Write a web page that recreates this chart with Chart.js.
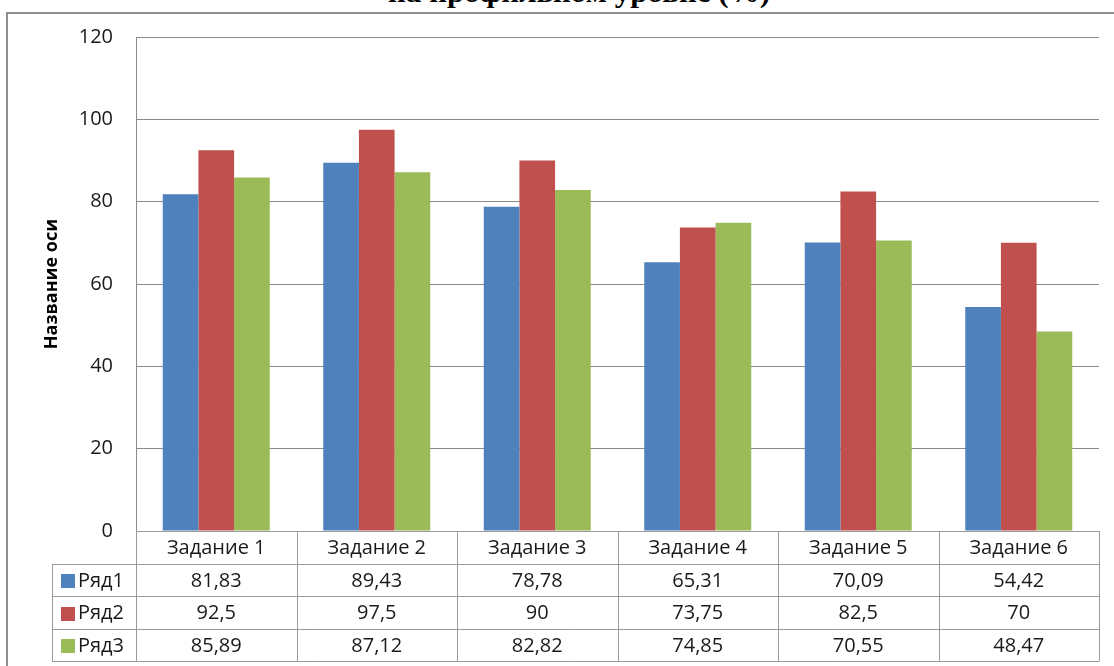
<!DOCTYPE html>
<html>
<head>
<meta charset="utf-8">
<script src="https://cdn.jsdelivr.net/npm/chart.js@4.4.0/dist/chart.umd.min.js"></script>
<style>
  html, body { margin: 0; padding: 0; background: #fff; overflow: hidden; }
  #wrap { position: absolute; left: 0; top: 0; width: 1114px; height: 666px; }
  #frame { position: absolute; left: 6px; top: 12px; width: 1200px; height: 800px; border: 2px solid #8e8e8e; box-sizing: border-box; }
  #title { position: absolute; left: 388px; top: -25px; white-space: nowrap; font-family: "Liberation Serif", serif; font-weight: bold; font-size: 30px; color: #000; transform-origin: 0 0; }
  canvas { position: absolute; left: 0; top: 0; }
</style>
</head>
<body>
<div id="wrap">
  <div id="frame"></div>
  <div id="title">на профильном уровне (%)</div>
  <canvas id="c" width="1114" height="666"></canvas>
</div>
<script>
const categories = ["Задание 1", "Задание 2", "Задание 3", "Задание 4", "Задание 5", "Задание 6"];
const seriesNames = ["Ряд1", "Ряд2", "Ряд3"];
const ryad1 = [81.83, 89.43, 78.78, 65.31, 70.09, 54.42];
const ryad2 = [92.5, 97.5, 90, 73.75, 82.5, 70];
const ryad3 = [85.89, 87.12, 82.82, 74.85, 70.55, 48.47];
const seriesColors = ["#4F81BD", "#C0504D", "#9BBB59"];
const yTitle = "Название оси";
const yMin = 0, yMax = 120, yStep = 20;

// fit title width to the reference
(function(){
  const t = document.getElementById('title');
  const w = t.getBoundingClientRect().width;
  t.style.transform = 'scaleX(' + (382 / w) + ')';
})();

const FONT = "'Open Sans', Lato, sans-serif";
const fmt = v => String(v).replace('.', ',');

const tablePlugin = {
  id: 'dataTable',
  afterDraw(chart) {
    const ctx = chart.ctx;
    const x = chart.scales.x;
    const area = chart.chartArea;
    const n = categories.length;
    const colW = x.width / n;
    const top = area.bottom;
    const rowH = 32.6;
    const tableLeft = 52;
    const sets = chart.data.datasets;
    ctx.save();
    ctx.strokeStyle = '#9a9a9a';
    ctx.lineWidth = 1;
    ctx.beginPath();
    ctx.moveTo(area.left, Math.round(top) + 0.5);
    ctx.lineTo(area.right, Math.round(top) + 0.5);
    for (let r = 1; r <= sets.length + 1; r++) {
      const yy = Math.round(top + r * rowH) + 0.5;
      ctx.moveTo(tableLeft, yy);
      ctx.lineTo(area.right, yy);
    }
    const bottom = Math.round(top + (sets.length + 1) * rowH) + 0.5;
    ctx.moveTo(tableLeft + 0.5, Math.round(top + rowH));
    ctx.lineTo(tableLeft + 0.5, bottom);
    for (let i = 0; i <= n; i++) {
      const xx = Math.round(x.getPixelForValue(0) - colW / 2 + i * colW) + 0.5;
      ctx.moveTo(xx, top);
      ctx.lineTo(xx, bottom);
    }
    ctx.stroke();

    ctx.fillStyle = '#1a1a1a';
    ctx.font = '20px ' + FONT;
    ctx.textAlign = 'center';
    ctx.textBaseline = 'middle';
    for (let i = 0; i < n; i++) {
      ctx.fillText(categories[i], x.getPixelForValue(i), top + rowH / 2 + 1);
    }
    sets.forEach((ds, r) => {
      const cy = top + (r + 1) * rowH + rowH / 2 + 1;
      ctx.fillStyle = ds.backgroundColor;
      ctx.fillRect(61, Math.round(cy - 7), 14, 14);
      ctx.fillStyle = '#1a1a1a';
      ctx.textAlign = 'left';
      ctx.fillText(ds.label, 78, cy);
      ctx.textAlign = 'center';
      ds.data.forEach((v, i) => {
        ctx.fillText(fmt(v), x.getPixelForValue(i), cy);
      });
    });
    ctx.restore();
  }
};

new Chart(document.getElementById('c'), {
  type: 'bar',
  data: {
    labels: categories,
    datasets: [
      { label: seriesNames[0], data: ryad1, backgroundColor: seriesColors[0] },
      { label: seriesNames[1], data: ryad2, backgroundColor: seriesColors[1] },
      { label: seriesNames[2], data: ryad3, backgroundColor: seriesColors[2] }
    ]
  },
  options: {
    responsive: false,
    animation: false,
    devicePixelRatio: 1,
    layout: { padding: { top: 37, left: 0, right: 15, bottom: 135 } },
    plugins: { legend: { display: false }, title: { display: false }, tooltip: { enabled: false } },
    datasets: { bar: { categoryPercentage: 3 / 4.5, barPercentage: 1.0, borderWidth: 0 } },
    scales: {
      x: { display: false, offset: true },
      y: {
        min: yMin, max: yMax,
        ticks: { stepSize: yStep, color: '#1a1a1a', font: { family: FONT, size: 20 }, padding: 23 },
        grid: { color: '#8a8a8a', drawTicks: false, lineWidth: 1 },
        border: { display: true, color: '#8a8a8a', width: 1 },
        title: { display: true, text: yTitle, color: '#000', font: { family: FONT, size: 18, weight: 'bold' }, padding: { top: 41, bottom: 0 } },
        afterFit(scale) { scale.width = 136; }
      }
    }
  },
  plugins: [tablePlugin]
});
</script>
</body>
</html>
